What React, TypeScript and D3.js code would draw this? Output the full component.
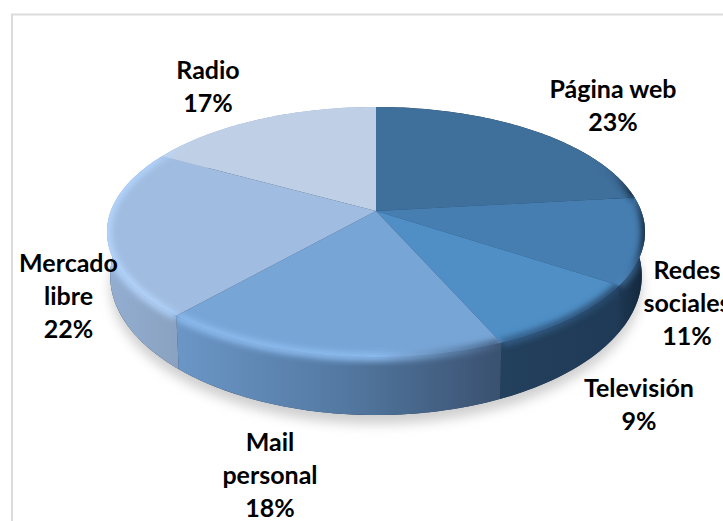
import React from "react";
import * as d3 from "d3";

const categories = ["Página web", "Redes sociales", "Televisión", "Mail personal", "Mercado libre", "Radio"];
const shares = [23, 11, 9, 18, 22, 17];
const faceColors = ["#3f6f9b", "#467eb1", "#4f8fc6", "#77a5d6", "#a0bce0", "#bfd0e6"];

// Horizontal colour ramps, left to right, for the outer wall of each slice
const wallStops = [
  ["#1c344d", "#0e1c2c"],
  ["#1f3a56", "#12263a"],
  ["#23405c", "#1f3a56"],
  ["#6b96c6", "#547aa3", "#3a5170"],
  ["#93aed2", "#8aa2c0"],
  ["#8fa9cd", "#8fa9cd"],
];
// Bevel tint along the rim of each slice: [offset, colour, opacity]
const rimStops: [number, string, number][][] = [
  [[0, "#3f6f9b", 0], [0.86, "#3f6f9b", 0], [1, "#0f1e2e", 1]],
  [[0, "#5a92c6", 0.5], [0.6, "#3a6a98", 0.8], [1, "#101f30", 1]],
  [[0, "#35608c", 1], [1, "#27496b", 1]],
  [[0, "#8dbcf0", 1], [0.62, "#8dbcf0", 1], [0.9, "#55789f", 1], [1, "#40597a", 1]],
  [[0, "#b6d7ff", 1], [0.65, "#b6d7ff", 0.9], [1, "#a8cdf8", 1]],
  [[0, "#b6d7ff", 0.7], [0.12, "#b6d7ff", 0], [1, "#b6d7ff", 0]],
];

const labelLines = [["Página web", "23%"], ["Redes", "sociales", "11%"], ["Televisión", "9%"], ["Mail", "personal", "18%"], ["Mercado", "libre", "22%"], ["Radio", "17%"]];
const labelAnchors: [number, number][] = [[613, 98], [687, 279], [639, 397], [270, 451], [68.5, 272], [208, 79]];

const WIDTH = 723;
const HEIGHT = 521;
const APEX: [number, number] = [376, 211];
const SPREAD_X = 265.2;
const SPREAD_Y = 121.5;
const TILT = 0.168;
const YAW = 0.03;
const RIM_MID_Y = 232;
const BASE_DROP = 44;
const BASE_GROWTH = 0.112;
const BASE_NARROW = 0.988;
const LINE_STEP = 33;

// Perspective projection of a pie angle, clockwise from twelve o'clock
function project(rawAngle: number): [number, number] {
  const angle = rawAngle + (YAW * (1 - Math.cos(rawAngle))) / 2;
  const u = Math.sin(angle);
  const v = -Math.cos(angle);
  const d = 1 - TILT * v;
  return [APEX[0] + (SPREAD_X * u) / d, APEX[1] + (SPREAD_Y * v) / d];
}

// The same rim on the bottom face of the disc
function projectBase(angle: number): [number, number] {
  const [x, y] = project(angle);
  return [APEX[0] + (x - APEX[0]) * BASE_NARROW, y + BASE_DROP + BASE_GROWTH * (y - RIM_MID_Y)];
}

function sweep(a0: number, a1: number, at: (a: number) => [number, number]) {
  const steps = Math.max(2, Math.ceil((a1 - a0) / 0.02));
  return d3.range(steps + 1).map((i) => at(a0 + ((a1 - a0) * i) / steps));
}

const toPath = d3.line();
const slices = d3.pie<number>().sort(null).value((d) => d)(shares);
const baseOutline = sweep(0, Math.PI * 2, projectBase);

export default function App() {
  const faces = slices.map((s) => [APEX, ...sweep(s.startAngle, s.endAngle, project)] as [number, number][]);
  const walls = slices.map((s) => [
    ...sweep(s.startAngle, s.endAngle, project),
    ...sweep(s.startAngle, s.endAngle, projectBase).reverse(),
  ] as [number, number][]);
  const extents = walls.map((w) => d3.extent(w, (p) => p[0]) as [number, number]);

  return (
    <svg width={WIDTH} height={HEIGHT} style={{ position: "absolute", left: 0, top: 0 }}>
      <defs>
        <filter id="rimBlur" x="-20%" y="-20%" width="140%" height="140%">
          <feGaussianBlur stdDeviation="3" />
        </filter>
        <filter id="groundBlur" x="-20%" y="-20%" width="140%" height="140%">
          <feGaussianBlur stdDeviation="6" />
        </filter>
        {slices.map((_, i) => (
          <React.Fragment key={i}>
            <linearGradient id={`wall${i}`} gradientUnits="userSpaceOnUse" x1={extents[i][0]} x2={extents[i][1]} y1={0} y2={0}>
              {wallStops[i].map((c, k) => (
                <stop key={k} offset={k / (wallStops[i].length - 1)} stopColor={c} />
              ))}
            </linearGradient>
            <linearGradient id={`rim${i}`} gradientUnits="userSpaceOnUse" x1={extents[i][0]} x2={extents[i][1]} y1={0} y2={0}>
              {rimStops[i].map(([o, c, a], k) => (
                <stop key={k} offset={o} stopColor={c} stopOpacity={a} />
              ))}
            </linearGradient>
            <clipPath id={`clip${i}`}>
              <path d={toPath(faces[i])! + "Z"} />
              <path d={toPath(walls[i])! + "Z"} />
            </clipPath>
          </React.Fragment>
        ))}
      </defs>

      <rect x={0} y={0} width={WIDTH} height={HEIGHT} fill="#ffffff" />
      <rect x={12} y={14.5} width={WIDTH + 20} height={HEIGHT + 20} fill="none" stroke="#dcdcdc" strokeWidth={2} />

      <path d={toPath(baseOutline)! + "Z"} fill="#cfcfcf" transform="translate(0,9)" filter="url(#groundBlur)" />
      <path d={toPath(baseOutline)! + "Z"} fill="#24405c" />

      {walls.map((w, i) => (
        <path key={i} d={toPath(w)! + "Z"} fill={`url(#wall${i})`} />
      ))}
      {faces.map((f, i) => (
        <path key={i} d={toPath(f)! + "Z"} fill={faceColors[i]} />
      ))}
      {slices.map((s, i) => (
        <g key={i} clipPath={`url(#clip${i})`}>
          <path
            d={toPath(sweep(s.startAngle, s.endAngle, project))!}
            fill="none"
            stroke={`url(#rim${i})`}
            strokeWidth={8}
            filter="url(#rimBlur)"
          />
        </g>
      ))}

      {labelLines.map((lines, i) => (
        <text key={categories[i]} textAnchor="middle" fontFamily="Lato, sans-serif" fontWeight={700} fontSize={25} fill="#000000">
          {lines.map((line, k) => (
            <tspan key={k} x={labelAnchors[i][0]} y={labelAnchors[i][1] + k * LINE_STEP}>
              {line}
            </tspan>
          ))}
        </text>
      ))}
    </svg>
  );
}
